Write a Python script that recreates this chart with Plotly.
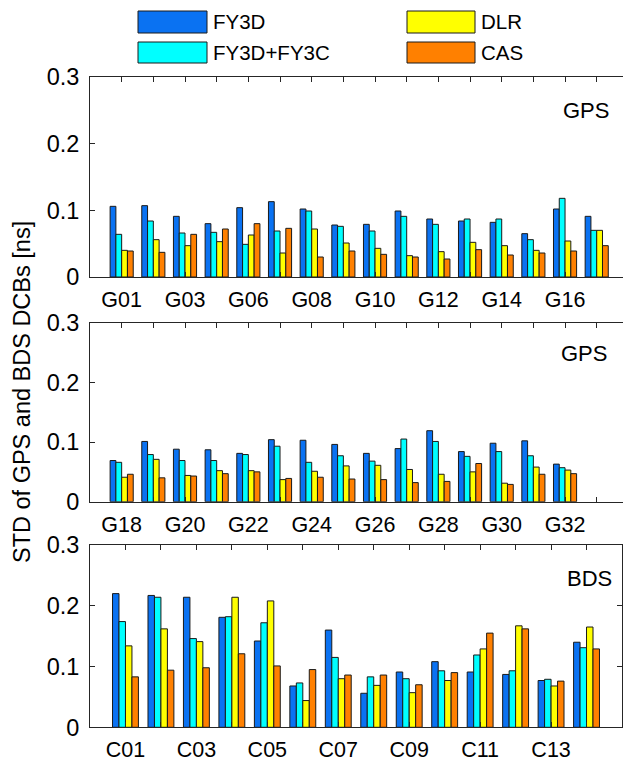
import plotly.graph_objects as go

W, H = 623, 764

series_names = ["FY3D", "FY3D+FY3C", "DLR", "CAS"]
series_colors = ["#0A72F2", "#00FFFF", "#FFFF00", "#FF8000"]

# Panel 1: GPS (first block)
gps1_sats = ["G01", "G02", "G03", "G05", "G06", "G07", "G08", "G09",
             "G10", "G11", "G12", "G13", "G14", "G15", "G16", "G17"]
gps1_fy3d = [0.106, 0.107, 0.091, 0.080, 0.104, 0.113, 0.102, 0.078,
             0.079, 0.099, 0.087, 0.084, 0.082, 0.065, 0.102, 0.091]
gps1_fy3dc = [0.064, 0.084, 0.066, 0.067, 0.049, 0.069, 0.099, 0.076,
              0.069, 0.091, 0.079, 0.087, 0.087, 0.056, 0.118, 0.070]
gps1_dlr = [0.040, 0.056, 0.047, 0.053, 0.063, 0.036, 0.072, 0.051,
            0.043, 0.032, 0.038, 0.052, 0.047, 0.040, 0.054, 0.070]
gps1_cas = [0.039, 0.037, 0.064, 0.072, 0.080, 0.073, 0.030, 0.039,
            0.034, 0.030, 0.027, 0.041, 0.033, 0.036, 0.039, 0.047]

# Panel 2: GPS (second block)
gps2_sats = ["G18", "G19", "G20", "G21", "G22", "G23", "G24", "G25",
             "G26", "G27", "G28", "G29", "G30", "G31", "G32"]
gps2_fy3d = [0.069, 0.101, 0.088, 0.087, 0.081, 0.104, 0.103, 0.096,
             0.081, 0.089, 0.119, 0.084, 0.098, 0.102, 0.063]
gps2_fy3dc = [0.066, 0.079, 0.069, 0.069, 0.079, 0.093, 0.066, 0.077,
              0.068, 0.105, 0.101, 0.076, 0.084, 0.077, 0.057]
gps2_dlr = [0.041, 0.071, 0.044, 0.052, 0.052, 0.037, 0.051, 0.060,
            0.061, 0.054, 0.046, 0.050, 0.031, 0.058, 0.053]
gps2_cas = [0.046, 0.040, 0.043, 0.047, 0.050, 0.039, 0.041, 0.038,
            0.037, 0.032, 0.034, 0.064, 0.029, 0.046, 0.047]

# Panel 3: BDS
bds_sats = ["C01", "C02", "C03", "C04", "C05", "C06", "C07",
            "C08", "C09", "C10", "C11", "C12", "C13", "C14"]
bds_fy3d = [0.220, 0.217, 0.214, 0.181, 0.142, 0.068, 0.160,
            0.056, 0.091, 0.108, 0.091, 0.087, 0.077, 0.140]
bds_fy3dc = [0.174, 0.214, 0.146, 0.182, 0.172, 0.073, 0.115,
             0.083, 0.080, 0.093, 0.119, 0.093, 0.079, 0.131]
bds_dlr = [0.134, 0.162, 0.141, 0.214, 0.208, 0.044, 0.080,
           0.069, 0.057, 0.077, 0.129, 0.167, 0.068, 0.165]
bds_cas = [0.083, 0.094, 0.098, 0.121, 0.101, 0.095, 0.086,
           0.086, 0.070, 0.090, 0.155, 0.162, 0.076, 0.129]

y_ticks = [0, 0.1, 0.2, 0.3]
y_tick_labels = ["0", "0.1", "0.2", "0.3"]

FONT = "Liberation Sans, Arial, Helvetica, sans-serif"
AX_COLOR = "#262626"


def px_x(x):
    return x / W


def px_y(y):
    return 1 - y / H


n_gps_slots = max(len(gps1_sats), len(gps2_sats))
panels = [
    dict(sats=gps1_sats, vals=[gps1_fy3d, gps1_fy3dc, gps1_dlr, gps1_cas],
         label="GPS", nticks=n_gps_slots, top=77, bottom=277, right=623, xmax=16.83,
         lab_x=611, lab_y=110, mirror_y=False),
    dict(sats=gps2_sats, vals=[gps2_fy3d, gps2_fy3dc, gps2_dlr, gps2_cas],
         label="GPS", nticks=n_gps_slots, top=322.7, bottom=501.7, right=623, xmax=16.83,
         lab_x=609, lab_y=353, mirror_y=False),
    dict(sats=bds_sats, vals=[bds_fy3d, bds_fy3dc, bds_dlr, bds_cas],
         label="BDS", nticks=len(bds_sats), top=545, bottom=727.3, right=622, xmax=15,
         lab_x=614, lab_y=578, mirror_y=True),
]

fig = go.Figure()
annotations = []
shapes = []

for p_i, p in enumerate(panels):
    suffix = "" if p_i == 0 else str(p_i + 1)
    xs = list(range(1, len(p["sats"]) + 1))
    for s_i, name in enumerate(series_names):
        fig.add_trace(go.Bar(
            x=xs, y=p["vals"][s_i], name=name,
            marker=dict(color=series_colors[s_i],
                        line=dict(color="#1a1a1a", width=1)),
            xaxis="x" + suffix, yaxis="y" + suffix, showlegend=False,
        ))
    tickvals = list(range(1, p["nticks"] + 1))
    ticktext = [p["sats"][i - 1] if (i - 1) % 2 == 0 and i <= len(p["sats"]) else ""
                for i in tickvals]
    fig.update_layout(**{
        "xaxis" + suffix: dict(
            domain=[px_x(90), px_x(p["right"])], range=[0, p["xmax"]],
            anchor="y" + suffix, tickvals=tickvals, ticktext=ticktext,
            ticks="inside", ticklen=5, tickcolor=AX_COLOR, tickwidth=1,
            showline=True, linecolor=AX_COLOR, linewidth=1, mirror="ticks",
            showgrid=False, zeroline=False, automargin=False,
            tickfont=dict(family=FONT, size=21.5, color="black"),
            ticklabelstandoff=3,
        ),
        "yaxis" + suffix: dict(
            domain=[px_y(p["bottom"]), px_y(p["top"])], range=[0, 0.3],
            anchor="x" + suffix, tickvals=y_ticks, ticktext=y_tick_labels,
            ticks="inside", ticklen=5, tickcolor=AX_COLOR, tickwidth=1,
            showline=True, linecolor=AX_COLOR, linewidth=1,
            mirror="ticks" if p["mirror_y"] else False,
            showgrid=False, zeroline=False, automargin=False,
            tickfont=dict(family=FONT, size=23.5, color="black"),
            ticklabelstandoff=5,
        ),
    })
    annotations.append(dict(
        x=px_x(p["lab_x"]), y=px_y(p["lab_y"]), xref="paper", yref="paper",
        text=p["label"], showarrow=False, xanchor="right", yanchor="middle",
        font=dict(family=FONT, size=22, color="black"),
    ))

# Legend drawn as swatches + text
legend_pos = [(138, 11, 207, 33), (138, 42, 207, 63), (407, 11, 475, 33), (407, 42, 475, 63)]
for (x0, y0, x1, y1), name, col in zip(legend_pos, series_names, series_colors):
    shapes.append(dict(type="rect", xref="paper", yref="paper",
                       x0=px_x(x0), x1=px_x(x1), y0=px_y(y1), y1=px_y(y0),
                       fillcolor=col, line=dict(color="#1a1a1a", width=1)))
    annotations.append(dict(
        x=px_x(x1 + 4), y=px_y((y0 + y1) / 2), xref="paper", yref="paper",
        text=name, showarrow=False, xanchor="left", yanchor="middle",
        font=dict(family=FONT, size=20.5, color="black"),
    ))

annotations.append(dict(
    x=px_x(22), y=px_y(392), xref="paper", yref="paper",
    text="STD of GPS and BDS DCBs [ns]", showarrow=False, textangle=-90,
    xanchor="center", yanchor="middle",
    font=dict(family=FONT, size=23.5, color="black"),
))

fig.update_layout(
    width=W, height=H, margin=dict(l=0, r=0, t=0, b=0, autoexpand=False),
    paper_bgcolor="white", plot_bgcolor="white",
    barmode="group", bargap=0.27, bargroupgap=0,
    annotations=annotations, shapes=shapes,
)

fig.write_html("out.html")
